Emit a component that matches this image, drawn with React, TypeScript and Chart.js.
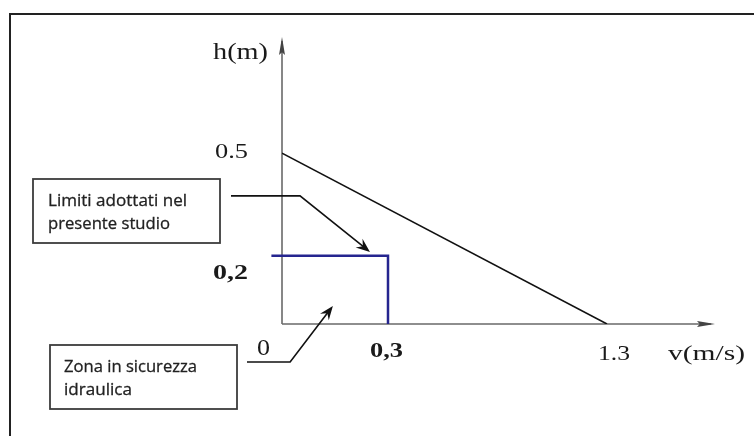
import React, { useEffect, useRef } from 'react';
import { Chart, LinearScale, registerables } from 'chart.js';

// ---------------- data ----------------
const thresholdV = [0, 1.3]; // v (m/s)
const thresholdH = [0.5, 0]; // h (m)
const limitV = [-0.03, 0.3, 0.3];
const limitH = [0.2, 0.2, 0];
const xTickValues = [0, 0.3, 1.3];
const xTickLabels = ['0', '0,3', '1.3'];
const yTickValues = [0.5, 0.2];
const yTickLabels = ['0.5', '0,2'];
const xTitle = 'v(m/s)';
const yTitle = 'h(m)';
const calloutTexts = [
  ['Limiti adottati nel', 'presente studio'],
  ['Zona in sicurezza', 'idraulica'],
];
const calloutCornerV = [0.051, 0.023];
const calloutCornerH = [0.375, -0.111];
const calloutTipV = [0.249, 0.144];
const calloutTipH = [0.211, 0.053];

// ---------------- axis layout (schematic, not to scale) ----------------
const X_BREAKS = [0, 0.3, 1.3, 1.8];
const X_FRACTIONS = [0, 0.2448, 0.7506, 1];

class SegmentedScale extends LinearScale {
  static id = 'segmented';
  static defaults = {};
  getPixelForValue(value: any) {
    if (value === null || value === undefined || isNaN(value)) return NaN;
    let i = 0;
    while (i < X_BREAKS.length - 2 && value > X_BREAKS[i + 1]) i++;
    const t = (value - X_BREAKS[i]) / (X_BREAKS[i + 1] - X_BREAKS[i]);
    return this.getPixelForDecimal(X_FRACTIONS[i] + t * (X_FRACTIONS[i + 1] - X_FRACTIONS[i]));
  }
  getValueForPixel(pixel: number) {
    const d = this.getDecimalForPixel(pixel);
    let i = 0;
    while (i < X_FRACTIONS.length - 2 && d > X_FRACTIONS[i + 1]) i++;
    const t = (d - X_FRACTIONS[i]) / (X_FRACTIONS[i + 1] - X_FRACTIONS[i]);
    return X_BREAKS[i] + t * (X_BREAKS[i + 1] - X_BREAKS[i]);
  }
}

Chart.register(...registerables, SegmentedScale as any);

// ---------------- styles ----------------
const SERIF = '"Liberation Serif", "Times New Roman", serif';
const SANS = '"Open Sans", "Noto Sans", sans-serif';
const xTickStyle = [
  { dx: -25, dy: 31, w: 13, size: 23, bold: false },
  { dx: -18, dy: 33, w: 33, size: 22, bold: true },
  { dx: -9, dy: 36, w: 32, size: 22, bold: false },
];
const yTickStyle = [
  { dx: -67, dy: 5, w: 33, size: 22, bold: false },
  { dx: -69, dy: 23, w: 35, size: 21, bold: true },
];
const boxStyle = [
  { x: 33, y: 179, w: 187, h: 64, tx: 48, base: [206, 229], widths: [139, 122], startX: 231 },
  { x: 50, y: 345, w: 187, h: 64, tx: 64, base: [372, 395], widths: [133, 68], startX: 247 },
];

function fitText(ctx: CanvasRenderingContext2D, text: string, x: number, y: number, font: string, width: number, halo = 0) {
  ctx.font = font;
  const m = ctx.measureText(text).width;
  ctx.save();
  ctx.translate(x, y);
  ctx.scale(width / m, 1);
  ctx.textAlign = 'left';
  ctx.textBaseline = 'alphabetic';
  ctx.fillText(text, 0, 0);
  if (halo > 0) {
    ctx.lineWidth = halo;
    ctx.strokeStyle = ctx.fillStyle as string;
    ctx.strokeText(text, 0, 0);
  }
  ctx.restore();
}

function arrowHead(ctx: CanvasRenderingContext2D, fromX: number, fromY: number, tipX: number, tipY: number, len: number, half: number, notch: number) {
  const a = Math.atan2(tipY - fromY, tipX - fromX);
  const c = Math.cos(a), s = Math.sin(a);
  const bx = tipX - c * len, by = tipY - s * len;
  const nx = tipX - c * len * notch, ny = tipY - s * len * notch;
  ctx.beginPath();
  ctx.moveTo(tipX, tipY);
  ctx.lineTo(bx - s * half, by + c * half);
  ctx.lineTo(nx, ny);
  ctx.lineTo(bx + s * half, by - c * half);
  ctx.closePath();
  ctx.fill();
}

const diagramPlugin = {
  id: 'diagram',
  beforeDraw(chart: any) {
    const ctx: CanvasRenderingContext2D = chart.ctx;
    ctx.save();
    ctx.fillStyle = '#ffffff';
    ctx.fillRect(0, 0, chart.width, chart.height);
    ctx.strokeStyle = '#222';
    ctx.lineWidth = 2;
    ctx.beginPath();
    ctx.moveTo(10, chart.height);
    ctx.lineTo(10, 14);
    ctx.lineTo(chart.width, 14);
    ctx.stroke();
    ctx.restore();
  },
  beforeDatasetsDraw(chart: any) {
    const ctx: CanvasRenderingContext2D = chart.ctx;
    const xs = chart.scales.x, ys = chart.scales.y;
    const area = chart.chartArea;
    const x0 = xs.getPixelForValue(0), y0 = ys.getPixelForValue(0);
    ctx.save();
    ctx.strokeStyle = '#6a6a6a';
    ctx.fillStyle = '#444';
    ctx.lineWidth = 1.6;
    ctx.beginPath();
    ctx.moveTo(x0, y0);
    ctx.lineTo(x0, area.top + 4);
    ctx.moveTo(x0, y0);
    ctx.lineTo(area.right - 4, y0);
    ctx.stroke();
    arrowHead(ctx, x0, y0, x0, area.top, 18, 3, 0.85);
    arrowHead(ctx, x0, y0, area.right, y0, 18, 3, 0.85);
    ctx.restore();
  },
  afterDatasetsDraw(chart: any) {
    const ctx: CanvasRenderingContext2D = chart.ctx;
    const xs = chart.scales.x, ys = chart.scales.y;
    const area = chart.chartArea;
    const x0 = xs.getPixelForValue(0), y0 = ys.getPixelForValue(0);
    ctx.save();
    ctx.fillStyle = '#1a1a1a';
    // axis titles
    fitText(ctx, yTitle, x0 - 69, area.top + 22, `23px ${SERIF}`, 55);
    fitText(ctx, xTitle, area.right - 47, y0 + 36, `22px ${SERIF}`, 77);
    // tick labels
    xTickValues.forEach((v, i) => {
      const st = xTickStyle[i];
      fitText(ctx, xTickLabels[i], xs.getPixelForValue(v) + st.dx, y0 + st.dy,
        `${st.bold ? 'bold ' : ''}${st.size}px ${SERIF}`, st.w);
    });
    yTickValues.forEach((v, i) => {
      const st = yTickStyle[i];
      fitText(ctx, yTickLabels[i], x0 + st.dx, ys.getPixelForValue(v) + st.dy,
        `${st.bold ? 'bold ' : ''}${st.size}px ${SERIF}`, st.w);
    });
    // callout boxes
    calloutTexts.forEach((lines, i) => {
      const b = boxStyle[i];
      ctx.strokeStyle = '#3c3c3c';
      ctx.lineWidth = 1.8;
      ctx.strokeRect(b.x, b.y, b.w, b.h);
      ctx.fillStyle = '#222';
      lines.forEach((ln, j) => fitText(ctx, ln, b.tx, b.base[j], `17px ${SANS}`, b.widths[j], 0.3));
      // leader line with arrow
      const cx = xs.getPixelForValue(calloutCornerV[i]);
      const cy = ys.getPixelForValue(calloutCornerH[i]);
      const tx = xs.getPixelForValue(calloutTipV[i]);
      const ty = ys.getPixelForValue(calloutTipH[i]);
      ctx.strokeStyle = '#111';
      ctx.fillStyle = '#111';
      ctx.lineWidth = 1.6;
      const a = Math.atan2(ty - cy, tx - cx);
      ctx.beginPath();
      ctx.moveTo(b.startX, cy);
      ctx.lineTo(cx, cy);
      ctx.lineTo(tx - Math.cos(a) * 8, ty - Math.sin(a) * 8);
      ctx.stroke();
      arrowHead(ctx, cx, cy, tx, ty, 14, 5.5, 0.65);
    });
    ctx.restore();
  },
};

export default function App() {
  const ref = useRef<HTMLCanvasElement | null>(null);
  useEffect(() => {
    if (!ref.current) return;
    const chart = new Chart(ref.current, {
      type: 'scatter',
      data: {
        datasets: [
          {
            label: 'Soglia',
            data: thresholdV.map((v, i) => ({ x: v, y: thresholdH[i] })),
            showLine: true,
            borderColor: '#111',
            borderWidth: 1.6,
            pointRadius: 0,
            tension: 0,
          },
          {
            label: 'Limiti adottati',
            data: limitV.map((v, i) => ({ x: v, y: limitH[i] })),
            showLine: true,
            borderColor: '#25258f',
            borderWidth: 2.5,
            borderJoinStyle: 'miter',
            borderCapStyle: 'butt',
            pointRadius: 0,
            tension: 0,
            clip: false,
          } as any,
        ],
      },
      options: {
        responsive: false,
        animation: false,
        devicePixelRatio: 1,
        layout: { padding: { left: 282, right: 39, top: 37, bottom: 112 } },
        plugins: { legend: { display: false }, tooltip: { enabled: false } },
        events: [],
        scales: {
          x: { type: 'segmented' as any, display: false, min: 0, max: 1.8 },
          y: { type: 'linear', display: false, min: 0, max: 0.84 },
        },
      },
      plugins: [diagramPlugin],
    });
    return () => chart.destroy();
  }, []);
  return (
    <div style={{ position: 'fixed', left: 0, top: 0, width: 754, height: 436, background: '#fff' }}>
      <canvas ref={ref} width={754} height={436} style={{ display: 'block' }} />
    </div>
  );
}
